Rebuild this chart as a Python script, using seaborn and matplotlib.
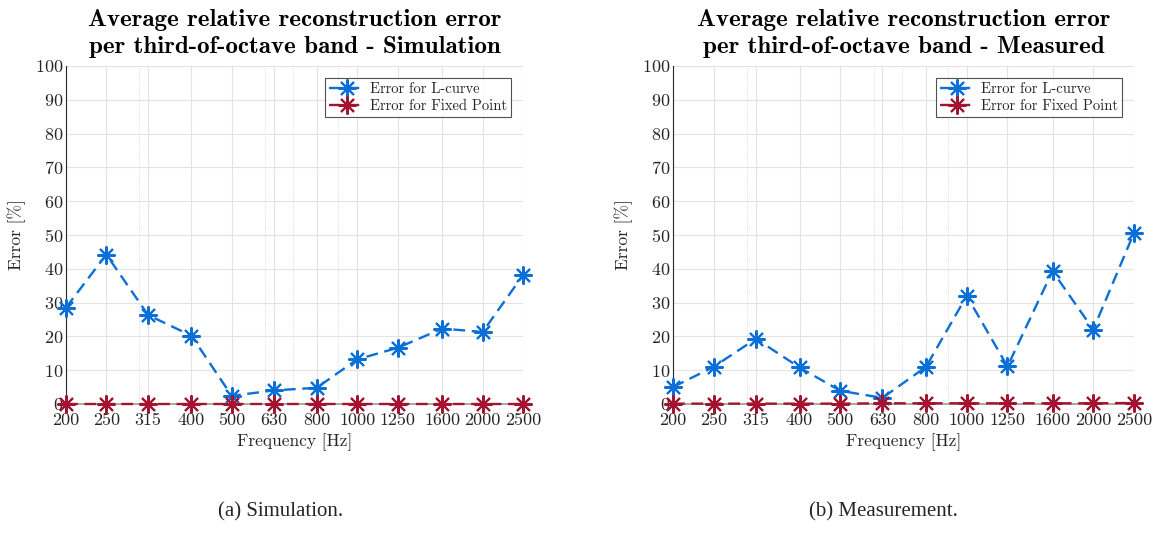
import numpy as np
import pandas as pd
import seaborn as sns
import matplotlib.pyplot as plt
from matplotlib.ticker import FixedLocator, LogLocator, NullFormatter

freqs = [200, 250, 315, 400, 500, 630, 800, 1000, 1250, 1600, 2000, 2500]
freq_labels = [str(f) for f in freqs]

# simulation
sim_lcurve = [28.5, 44.2, 26.3, 20.2, 2.4, 4.0, 4.8, 13.2, 16.6, 22.3, 21.3, 38.1]
sim_fixed = [0.1, 0.1, 0.1, 0.1, 0.1, 0.1, 0.1, 0.1, 0.1, 0.1, 0.1, 0.1]

# measured
meas_lcurve = [5.0, 11.0, 19.3, 10.8, 3.9, 1.8, 11.0, 32.0, 11.1, 39.3, 22.0, 50.6]
meas_fixed = [0.1, 0.1, 0.1, 0.1, 0.1, 0.2, 0.2, 0.2, 0.2, 0.2, 0.2, 0.3]

blue = "#0a6fd6"
red = "#a2142f"

sns.set_style("white")
plt.rcParams["font.family"] = ["cmr10", "DejaVu Serif"]
plt.rcParams["axes.unicode_minus"] = False
plt.rcParams["axes.formatter.use_mathtext"] = True

fig = plt.figure(figsize=(11.53, 5.40), dpi=100)
ax1 = fig.add_axes([0.0572, 0.2519, 0.3964, 0.626])
ax2 = fig.add_axes([0.5837, 0.2519, 0.3998, 0.626])

panels = [
    (ax1, sim_lcurve, sim_fixed, "Average relative reconstruction error\nper third-of-octave band - Simulation", "(a) Simulation.", 0.0),
    (ax2, meas_lcurve, meas_fixed, "Average relative reconstruction error\nper third-of-octave band - Measured", "(b) Measurement.", -0.005),
]

dash = (0, (5, 2.8))

for ax, lc, fx, title, caption, shift in panels:
    df = pd.DataFrame({"Frequency": freqs, "L": lc, "F": fx})
    sns.lineplot(data=df, x="Frequency", y="L", ax=ax, color=blue, linestyle=dash,
                 linewidth=1.7, marker=(8, 2, 0), markersize=13, markeredgecolor=blue,
                 markeredgewidth=1.5, label="Error for L-curve", clip_on=False, zorder=3)
    sns.lineplot(data=df, x="Frequency", y="F", ax=ax, color=red, linestyle=dash,
                 linewidth=1.7, marker=(8, 2, 0), markersize=13, markeredgecolor=red,
                 markeredgewidth=1.5, label="Error for Fixed Point", clip_on=False, zorder=3)
    ax.set_xscale("log")
    ax.set_xlim(200, 2500)
    ax.set_ylim(0, 100)
    ax.xaxis.set_major_locator(FixedLocator(freqs))
    ax.set_xticklabels(freq_labels)
    ax.xaxis.set_minor_locator(LogLocator(base=10, subs=np.arange(2, 10)))
    ax.xaxis.set_minor_formatter(NullFormatter())
    ax.set_yticks(np.arange(0, 101, 10))
    ax.tick_params(axis="both", which="major", direction="in", length=4, width=0.8,
                   labelsize=13, colors="#262626")
    ax.tick_params(axis="x", which="major", pad=6)
    ax.tick_params(axis="y", which="major", pad=2)
    ax.tick_params(axis="x", which="minor", length=0)
    ax.grid(True, which="major", color="#e3e3e3", linewidth=0.8)
    ax.grid(True, which="minor", axis="x", color="#d0d0d0", linewidth=0.6, linestyle=":")
    for side in ["top", "right"]:
        ax.spines[side].set_visible(False)
    ax.spines["left"].set_color("#262626")
    ax.spines["bottom"].set_color("#9a9a9a")
    ax.spines["left"].set_linewidth(0.8)
    ax.spines["bottom"].set_linewidth(1.2)
    ax.set_xlabel("Frequency [Hz]", fontsize=12.5, color="#262626", labelpad=4)
    ax.set_ylabel("Error [%]", fontsize=12.5, color="#262626", labelpad=6)
    ax.set_title(title, fontsize=18, family="cmb10", color="black",
                 linespacing=1.3, pad=9)
    leg = ax.legend(loc="upper right", fontsize=10.5, frameon=True, fancybox=False,
                    handlelength=2.4, borderpad=0.3, labelspacing=0.25,
                    handletextpad=0.4, borderaxespad=0.8)
    leg.get_frame().set_edgecolor("#262626")
    leg.get_frame().set_linewidth(0.8)
    pos = ax.get_position()
    fig.text((pos.x0 + pos.x1) / 2 - 0.012 + shift, 0.052, caption, ha="center", va="center",
             fontsize=15, family="Liberation Serif")

plt.savefig("out.png", dpi=100)
